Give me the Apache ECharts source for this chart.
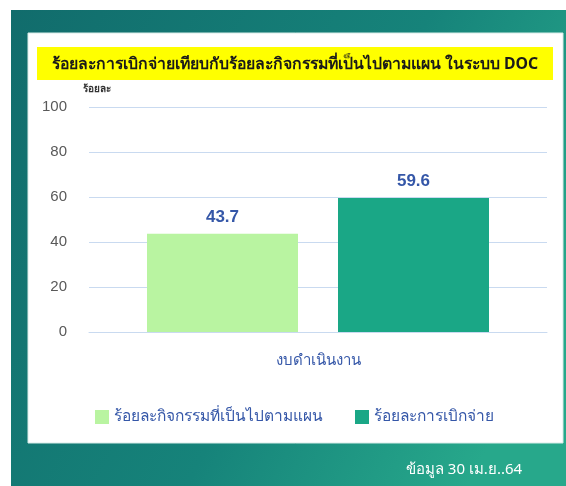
<!DOCTYPE html>
<html><head><meta charset="utf-8">
<script src="https://cdn.jsdelivr.net/npm/echarts@6/dist/echarts.min.js"></script>
<style>html,body{margin:0;padding:0;background:#fff}#c{width:566px;height:486px}</style>
</head><body><div id="c"></div>
<script>
const categories = ['งบดำเนินงาน'];
const seriesNames = ['ร้อยละกิจกรรมที่เป็นไปตามแผน', 'ร้อยละการเบิกจ่าย'];
const planValues = [43.7];
const spendValues = [59.6];
const yTicks = [0, 20, 40, 60, 80, 100];
const titleText = 'ร้อยละการเบิกจ่ายเทียบกับร้อยละกิจกรรมที่เป็นไปตามแผน ในระบบ DOC';
const noteText = 'ข้อมูล 30 เม.ย..64';

const blue = '#3557a8';
const numFont = '"Liberation Sans", Arial, sans-serif';
const chart = echarts.init(document.getElementById('c'));
chart.setOption({
  animation: false,
  textStyle: {fontFamily: 'Tahoma, "Noto Sans", sans-serif'},
  graphic: [
    {type:'rect', z:-10, shape:{x:11,y:10,width:555,height:476},
     style:{fill:new echarts.graphic.LinearGradient(0,0,1,0.6,[{offset:0,color:'#116c6c'},{offset:0.6,color:'#16837a'},{offset:1,color:'#27a88b'}])}},
    {type:'rect', z:-9, shape:{x:28,y:33,width:535,height:410},
     style:{fill:'#ffffff', stroke:'#d8ece8', lineWidth:1}},
    {type:'rect', z:-8, shape:{x:37,y:47,width:516,height:33}, style:{fill:'#ffff00'}},
    {type:'text', z:5, x:295, y:64, style:{text:titleText, fill:'#1a1a1a', font:'bold 15.8px Tahoma, "Noto Sans", sans-serif', textAlign:'center', textVerticalAlign:'middle'}},
    {type:'text', z:5, x:464, y:470, style:{text:noteText, fill:'#ffffff', font:'15px Tahoma, "Noto Sans", sans-serif', textAlign:'center', textVerticalAlign:'middle'}}
  ],
  legend: {
    data: seriesNames, left: 90, top: 404, itemWidth: 14, itemHeight: 14, itemGap: 32, icon: 'rect',
    textStyle: {color: blue, fontSize: 15.5}
  },
  grid: {left: 89, right: 19, top: 107, bottom: 154},
  xAxis: {
    type: 'category', data: categories,
    axisLine: {lineStyle: {color: '#c9daf0'}}, axisTick: {show: false},
    axisLabel: {color: blue, fontSize: 15, margin: 21}
  },
  yAxis: {
    type: 'value', min: yTicks[0], max: yTicks[yTicks.length-1], interval: 20,
    name: 'ร้อยละ', nameGap: 13,
    nameTextStyle: {color: '#333', fontSize: 10, fontWeight: 'bold', align: 'left', padding: [0,0,0,-6]},
    axisLine: {show: false}, axisTick: {show: false},
    axisLabel: {color: '#595959', fontSize: 15, margin: 22, fontFamily: numFont},
    splitLine: {lineStyle: {color: '#c9daf0'}}
  },
  series: [
    {name: seriesNames[0], type: 'bar', data: planValues, barWidth: 151, barGap: '26.5%',
     itemStyle: {color: '#b9f4a1'},
     label: {show: true, position: 'top', distance: 8, color: blue, fontSize: 17, fontWeight: 'bold', fontFamily: numFont}},
    {name: seriesNames[1], type: 'bar', data: spendValues, barWidth: 151,
     itemStyle: {color: '#1aa786'},
     label: {show: true, position: 'top', distance: 8, color: blue, fontSize: 17, fontWeight: 'bold', fontFamily: numFont}}
  ]
});
</script></body></html>
